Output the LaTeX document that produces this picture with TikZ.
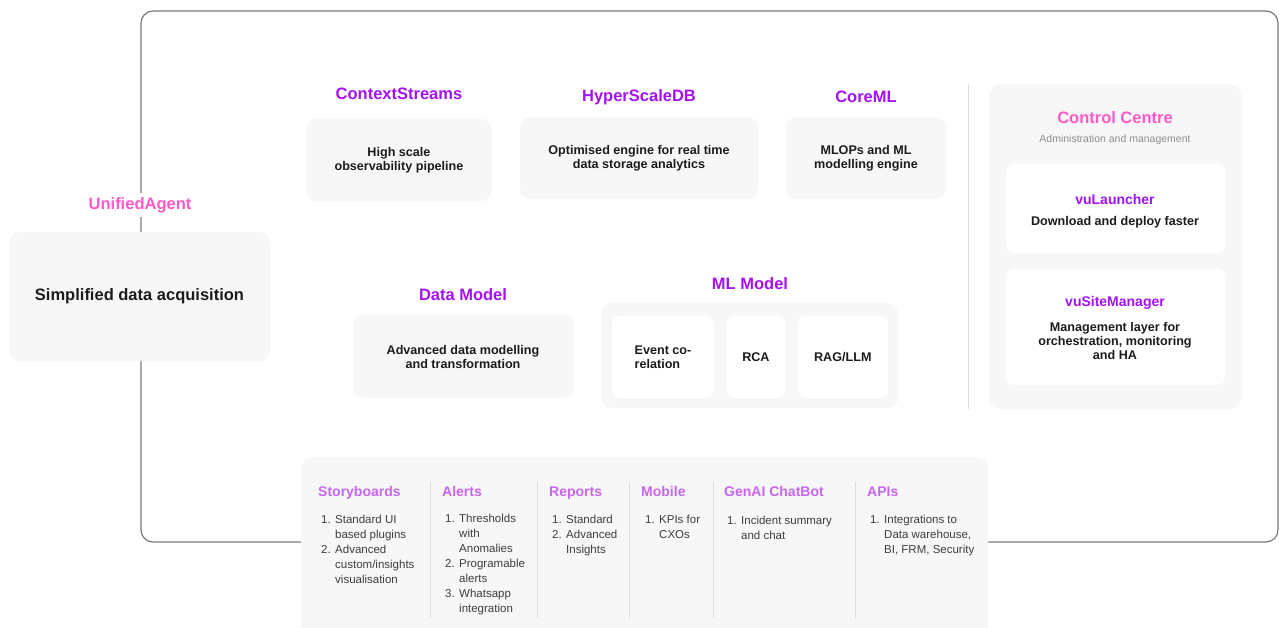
\documentclass[tikz,border=0pt]{standalone}
\usepackage{fontspec}
\setmainfont{Liberation Sans}
\usetikzlibrary{positioning}

\definecolor{tilefill}{HTML}{F7F7F7}
\definecolor{framegray}{HTML}{7A7A7A}
\definecolor{rulegray}{HTML}{DDDDDD}
\definecolor{violethead}{HTML}{A412F2}
\definecolor{pinkhead}{HTML}{FF5AC8}
\definecolor{lilachead}{HTML}{C766F0}
\definecolor{bodytext}{HTML}{1C1C1C}
\definecolor{subgray}{HTML}{8E8E8E}

\newcommand\collist[1]{\begin{tabular}{@{}p{14pt}@{}l@{}}#1\end{tabular}}

\tikzset{
	tile/.style={fill=tilefill, rounded corners=10pt, inner sep=0pt, align=center,
		text=bodytext, font=\bfseries\fontsize{12.6}{14}\selectfont},
	card/.style={tile, fill=white, rounded corners=8pt},
	vhead/.style={text=violethead, inner sep=1pt, yshift=-1pt, font=\bfseries\fontsize{16.5}{19}\selectfont},
	phead/.style={text=pinkhead, inner sep=1pt, yshift=-1pt, font=\bfseries\fontsize{16.5}{19}\selectfont},
	vsub/.style={text=violethead, inner sep=1pt, font=\bfseries\fontsize{14}{17}\selectfont},
	boxtext/.style={text=bodytext, inner sep=0pt, align=center, font=\bfseries\fontsize{12.6}{14}\selectfont},
	subtext/.style={text=subgray, inner sep=0pt, font=\fontsize{10.5}{12}\selectfont},
	colhead/.style={text=lilachead, inner sep=0pt, anchor=base west, font=\bfseries\fontsize{14}{17}\selectfont},
	coltext/.style={text=bodytext!85, inner sep=0pt, anchor=north west, font=\fontsize{11.5}{15}\selectfont},
	frameline/.style={draw=framegray, line width=1.2pt},
	divider/.style={draw=rulegray, line width=1pt},
	node distance=12pt
}

\begin{document}
\begin{tikzpicture}[x=1pt,y=-1pt]
	\useasboundingbox (0,0) rectangle (1279,628);

	% outer frame
	\draw[frameline, rounded corners=12pt] (141,11) rectangle (1278,542);

	% agent on the left
	\node[tile, minimum width=261, minimum height=129,
		font=\bfseries\fontsize{16.5}{19}\selectfont] (agent) at (139.5,296.5) {Simplified data acquisition};
	\node[phead, fill=white, inner sep=4pt] (agent title) at (140,204) {UnifiedAgent};

	% top row
	\node[tile, minimum width=186, minimum height=82] (cs box) at (399,160) {High scale\\observability pipeline};
	\node[vhead] (cs title) at (399,93) {ContextStreams};
	\node[tile, minimum width=238, minimum height=82] (hs box) at (639,158) {Optimised engine for real time\\data storage analytics};
	\node[vhead] (hs title) at (639,96) {HyperScaleDB};
	\node[tile, minimum width=160, minimum height=82] (core box) at (866,158) {MLOPs and ML\\modelling engine};
	\node[vhead] (core title) at (866,96) {CoreML};

	% middle row
	\node[tile, minimum width=220, minimum height=83] (dm box) at (463,356.5) {Advanced data modelling\\and transformation};
	\node[vhead] (dm title) at (463,294) {Data Model};
	\node[tile, minimum width=297, minimum height=105] (mlm panel) at (749.5,355.5) {};
	\node[vhead] (mlm title) at (750,283) {ML Model};
	\node[card, minimum width=102, minimum height=82, align=left] (corr) at (663,357) {Event co-\\relation};
	\node[card, minimum width=59, minimum height=82, right=of corr] (rca) {RCA};
	\node[card, minimum width=90, minimum height=82, right=of rca] (rag) {RAG/LLM};

	\draw[divider] (968,84) -- (968,409);

	% control centre
	\node[tile, rounded corners=12pt, minimum width=253, minimum height=325] (cc panel) at (1115.5,246.5) {};
	\node[phead] (cc title) at (1115,117) {Control Centre};
	\node[subtext] (cc sub) at (1115,140) {Administration and management};
	\node[card, minimum width=219, minimum height=89] (launcher) at (1115.5,208.5) {};
	\node[vsub] (launcher title) at (1115,199) {vuLauncher};
	\node[boxtext] (launcher text) at (1115,222) {Download and deploy faster};
	\node[card, minimum width=219, minimum height=116] (sitemgr) at (1115.5,327) {};
	\node[vsub] (sitemgr title) at (1115,303) {vuSiteManager};
	\node[boxtext] (sitemgr text) at (1115,341) {Management layer for\\orchestration, monitoring\\and HA};

	% consumers along the bottom
	\fill[tilefill, rounded corners=12pt] (301,628) -- (301,457) -- (988,457) -- (988,628);
	\foreach \x in {430,537,629,713,855}
		\draw[divider] (\x,482) -- (\x,618);

	\node[colhead] (sb head) at (318,496) {Storyboards};
	\node[coltext] (sb list) at (321,512.5) {\collist{1. & Standard UI\\ & based plugins\\2. & Advanced\\ & custom/insights\\ & visualisation}};
	\node[colhead] (al head) at (442,496) {Alerts};
	\node[coltext] (al list) at (445,511.5) {\collist{1. & Thresholds\\ & with\\ & Anomalies\\2. & Programable\\ & alerts\\3. & Whatsapp\\ & integration}};
	\node[colhead] (rp head) at (549,496) {Reports};
	\node[coltext] (rp list) at (552,512.5) {\collist{1. & Standard\\2. & Advanced\\ & Insights}};
	\node[colhead] (mb head) at (641,496) {Mobile};
	\node[coltext] (mb list) at (645,512.5) {\collist{1. & KPIs for\\ & CXOs}};
	\node[colhead] (gb head) at (724,496) {GenAI ChatBot};
	\node[coltext] (gb list) at (727,513.5) {\collist{1. & Incident summary\\ & and chat}};
	\node[colhead] (api head) at (867,496) {APIs};
	\node[coltext] (api list) at (870,512.5) {\collist{1. & Integrations to\\ & Data warehouse,\\ & BI, FRM, Security}};

\end{tikzpicture}
\end{document}
